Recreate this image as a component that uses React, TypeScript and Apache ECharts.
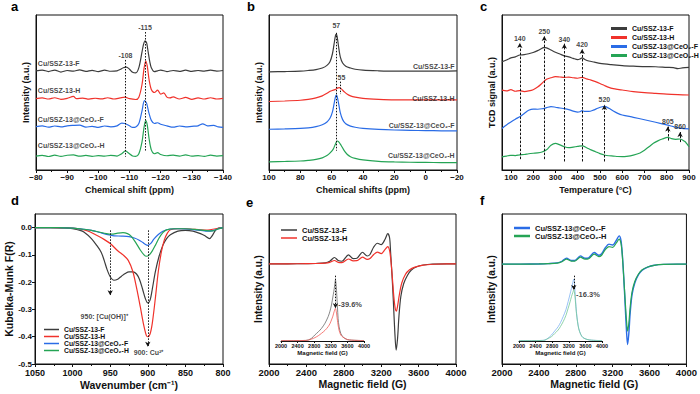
import { useEffect, useRef } from 'react';
import * as echarts from 'echarts';

type P = [number, number];
type Lbl = { t: string; x: number; y: number };
type Guide = { x: number; from: number; to: number };

// ---------- shared ----------
const sampleNames = ['Cu/SSZ-13-F', 'Cu/SSZ-13-H', 'Cu/SSZ-13@CeO₂-F', 'Cu/SSZ-13@CeO₂-H'];

// ---------- panel a : 29Si NMR (ppm, a.u.) ----------
const aF: P[] = [[-80,64],[-82,64.5],[-84,63.5],[-86,64.5],[-88,63.2],[-90,64.2],[-92,63.8],[-94,64.6],[-96,63.6],[-98,64.3],[-100,63.5],[-102,64.4],[-104,63.7],[-106,64],[-107,64.8],[-108,66],[-109,66.4],[-110,65],[-111,63],[-112,62.6],[-113,66],[-114,76],[-114.5,81],[-115,83.4],[-115.5,82],[-116,76],[-116.5,70],[-117,66],[-118,63.5],[-119,64],[-120,64.5],[-122,63.5],[-124,64.2],[-126,63.6],[-128,64.4],[-130,63.6],[-132,64.2],[-134,63.8],[-136,64.4],[-138,63.8],[-140,64.2]];
const aH: P[] = [[-80,46],[-82,46.5],[-84,45.8],[-86,46.6],[-88,45.6],[-90,46.2],[-92,47.5],[-93,46],[-95,46.4],[-97,45.7],[-99,46.3],[-101,45.9],[-103,46.6],[-105,45.8],[-107,46.5],[-108.5,47],[-110,46],[-112,45.5],[-113,47],[-114,55],[-114.7,66],[-115.2,70.3],[-115.7,67],[-116.3,58],[-117,52],[-118,50],[-119,51.5],[-120,49],[-121,49.8],[-122,47],[-123,46.5],[-124,47.2],[-126,45.8],[-128,46.8],[-130,45.6],[-132,46.5],[-134,45.8],[-136,46.6],[-138,45.8],[-140,46.2]];
const aCF: P[] = [[-80,28],[-82,28.5],[-84,27.6],[-86,28.4],[-88,27.8],[-90,28.5],[-92,28.8],[-94,29],[-96,27.6],[-98,28.2],[-100,27.5],[-102,28.4],[-104,27.8],[-106,28.5],[-107.5,30.3],[-108.5,30],[-110,28.5],[-111,27.5],[-112,27.8],[-113,30],[-114,38],[-114.8,44.7],[-115.5,43],[-116.2,37],[-117,32],[-118,30],[-119,30.5],[-120,29.5],[-122,28.5],[-124,27.6],[-126,28.4],[-128,27.8],[-130,28.2],[-132,28.5],[-133.5,29.8],[-135,28.5],[-137,28.8],[-138.5,27.8],[-140,27.5]];
const aCH: P[] = [[-80,9],[-82,9.5],[-84,8.7],[-86,9.6],[-88,8.8],[-90,9.5],[-92,9.7],[-94,8.9],[-96,9.4],[-98,8.8],[-100,9.3],[-102,8.9],[-104,9.5],[-106,9],[-107.5,10.5],[-108.7,12.3],[-109.8,10.8],[-111,9],[-112,8.8],[-113,10.5],[-114,18],[-114.7,28],[-115.2,31.8],[-115.7,29],[-116.3,20],[-117,13],[-118,10.5],[-119,11.2],[-120,10],[-122,9.2],[-124,9.6],[-126,9],[-128,9.7],[-130,9],[-132,9.3],[-134,8.8],[-136,9.6],[-138,9],[-140,9.3]];
const aSampleY = [68.8, 51.6, 32.9, 16.1];
const aSampleX = -80.6;
const aPeaks: Lbl[] = [{ t: '-115', x: -115, y: 92 }, { t: '-108', x: -108.7, y: 74 }];
const aGuides: Guide[] = [{ x: -115, from: 89, to: 12 }, { x: -108.7, from: 71, to: 8.6 }];

// ---------- panel b : 27Al NMR ----------
const bF: P[] = [[100,63.3],[90,63.5],[80,63.8],[75,64.2],[70,64.8],[66,65.8],[63,67.5],[61,70],[59.5,75],[58.5,81],[57.5,87],[57,87.7],[56.5,86],[55.5,79],[54.5,73],[53,69],[51,67],[48,65.8],[45,65],[40,64.4],[30,64],[20,63.8],[10,63.8],[0,63.8],[-10,63.8],[-20,63.9]];
const bH: P[] = [[100,44.2],[90,44.5],[80,45],[75,45.6],[70,46.5],[66,47.8],[63,49.5],[61,50.8],[59,51.5],[57.5,52],[56,53],[55,53.2],[54,52.5],[52,50.5],[50,48.8],[48,47.8],[45,47],[40,46.2],[30,45.6],[20,45.3],[10,45.3],[0,45.2],[-10,45.3],[-20,45.2]];
const bCF: P[] = [[100,26.3],[90,26.5],[80,26.8],[75,27.2],[70,28],[66,29.2],[63,31],[61,33.5],[59.5,37.5],[58.5,42.5],[57.5,47.5],[57,48.4],[56.5,47.5],[55.5,42.5],[54.5,37],[53,32.5],[51,29.8],[48,28.3],[45,27.6],[40,26.9],[30,26.2],[20,25.8],[10,25.6],[0,25.4],[-10,25.3],[-20,25.2]];
const bCH: P[] = [[100,5.3],[90,5.5],[80,5.8],[75,6.2],[70,6.8],[66,7.8],[63,9.3],[61,11],[59,13.5],[57.5,17],[56.5,18.7],[55.5,18.2],[54,16],[52,12.5],[50,10],[48,8.6],[45,7.5],[40,6.5],[30,5.6],[20,5.2],[10,5],[0,4.9],[-10,4.8],[-20,4.7]];
const bSampleY = [66.7, 46.2, 28.4, 9.2];
const bSampleX = -18.5;
const bPeaks: Lbl[] = [{ t: '57', x: 57, y: 93 }, { t: '55', x: 53.8, y: 59.6 }];
const bGuides: Guide[] = [{ x: 57, from: 88.5, to: 12.5 }, { x: 54.7, from: 57, to: 49 }];

// ---------- panel c : H2-TPR ----------
const cF: P[] = [[60,69.8],[80,71],[100,72.3],[120,73],[140,74.2],[160,74.4],[180,75],[200,75.8],[220,77],[240,78.6],[250,79.1],[260,78.8],[280,77.4],[300,76],[320,74.8],[340,73.6],[360,73],[380,72],[400,71.2],[410,71.6],[420,72.4],[430,71.5],[450,70.3],[475,69.6],[500,68.8],[550,68],[600,67.4],[650,67],[700,66.7],[750,66.6],[800,66.2],[830,66],[850,65.4],[870,65.9],[900,66.2]];
const cH: P[] = [[60,51.5],[80,51],[100,51.8],[120,50.8],[140,51.2],[160,50.6],[180,51],[200,51.8],[220,53.5],[240,56],[260,58.5],[280,59.5],[300,60.2],[320,60],[340,59.8],[360,59.9],[380,59.5],[400,59.2],[420,59.8],[440,58.8],[460,58],[480,57],[500,55.8],[520,54.5],[540,53.3],[560,52.5],[580,52],[600,51.6],[650,50.6],[700,49.9],[750,49.4],[800,48.9],[850,48.6],[900,48.4]];
const cCF: P[] = [[60,26.8],[80,29],[100,31],[120,32.8],[140,34.4],[160,36.5],[180,38.5],[200,39.3],[220,39.2],[240,39.5],[260,40.2],[280,40.9],[300,40.5],[320,40],[340,39.6],[360,39],[380,38],[400,37.3],[410,37.6],[420,38.3],[430,37.8],[450,37.8],[470,38.6],[490,39.8],[510,40.8],[520,41],[540,39.8],[560,38],[580,36.5],[600,35.5],[650,34],[700,32.4],[750,30.8],[800,29.1],[830,28],[860,27],[900,26.5]];
const cCH: P[] = [[60,8.5],[80,9],[100,9.5],[120,9.3],[140,9.8],[160,10],[180,10.5],[200,10.8],[220,11],[240,11.6],[260,13],[280,16],[300,17.2],[320,16.2],[340,15],[360,14.4],[380,14.8],[400,15.2],[420,15.6],[440,14.4],[460,13],[480,11.8],[500,10.6],[520,9.7],[540,9.2],[560,9],[580,8.7],[600,8.6],[620,8.8],[650,9.6],[680,11],[700,12.8],[720,15],[740,17.2],[760,18.8],[780,20],[805,21],[820,20.3],[840,19.8],[860,20],[880,18.5],[890,17],[900,15]];
const cTicks = [100, 200, 300, 400, 500, 600, 700, 800, 900];
const cPeaks: Lbl[] = [{ t: '140', x: 140, y: 85 }, { t: '250', x: 250, y: 89.5 }, { t: '340', x: 340, y: 84.5 }, { t: '420', x: 420, y: 81 }, { t: '520', x: 520, y: 45.5 }, { t: '805', x: 805, y: 31.5 }, { t: '860', x: 860, y: 28 }];
const cGuides: Guide[] = [{ x: 140, from: 7, to: 82 }, { x: 250, from: 7, to: 86.5 }, { x: 340, from: 5.5, to: 81.5 }, { x: 420, from: 5.5, to: 78 }, { x: 520, from: 5.5, to: 42 }, { x: 805, from: 19, to: 28 }, { x: 860, from: 18, to: 24.5 }];

// ---------- panel d : DRIFTS ----------
const dF: P[] = [[1050,0],[1030,0],[1010,-0.001],[1000,-0.004],[990,-0.01],[985,-0.016],[975,-0.04],[968,-0.065],[962,-0.09],[958,-0.12],[954,-0.155],[950,-0.18],[945,-0.193],[940,-0.189],[935,-0.178],[930,-0.168],[925,-0.162],[920,-0.162],[915,-0.17],[911,-0.19],[907,-0.225],[903,-0.262],[900,-0.276],[897,-0.266],[894,-0.225],[890,-0.162],[885,-0.105],[880,-0.065],[875,-0.04],[870,-0.026],[860,-0.013],[850,-0.01],[840,-0.013],[830,-0.022],[824,-0.03],[818,-0.04],[814,-0.028],[810,-0.01],[806,-0.002],[800,0]];
const dH: P[] = [[1050,0],[1030,0],[1010,-0.001],[1000,-0.002],[990,-0.005],[980,-0.012],[970,-0.025],[960,-0.04],[950,-0.058],[940,-0.085],[932,-0.102],[926,-0.12],[920,-0.16],[915,-0.22],[910,-0.29],[906,-0.35],[902,-0.395],[900,-0.4],[897,-0.39],[894,-0.35],[890,-0.26],[886,-0.16],[882,-0.09],[878,-0.045],[874,-0.02],[870,-0.008],[860,-0.004],[850,-0.004],[840,-0.006],[830,-0.008],[820,-0.009],[810,-0.004],[800,0]];
const dCF: P[] = [[1050,0],[1020,0],[1000,-0.002],[985,-0.006],[975,-0.01],[965,-0.017],[955,-0.025],[945,-0.03],[935,-0.031],[925,-0.033],[918,-0.038],[912,-0.045],[907,-0.054],[903,-0.062],[900,-0.065],[896,-0.058],[892,-0.042],[886,-0.025],[880,-0.013],[870,-0.005],[860,-0.004],[850,-0.005],[840,-0.007],[830,-0.01],[820,-0.013],[812,-0.01],[806,-0.004],[800,0]];
const dCH: P[] = [[1050,0],[1020,0],[1000,-0.002],[985,-0.006],[975,-0.01],[965,-0.016],[955,-0.022],[948,-0.024],[940,-0.02],[933,-0.018],[927,-0.022],[922,-0.032],[916,-0.055],[910,-0.082],[905,-0.1],[902,-0.105],[898,-0.1],[894,-0.085],[890,-0.065],[885,-0.038],[880,-0.018],[875,-0.008],[865,-0.004],[850,-0.004],[835,-0.007],[822,-0.011],[814,-0.012],[808,-0.006],[800,0]];
const dYTicks = [-0.5, -0.4, -0.3, -0.2, -0.1, 0];
const dNotes: Lbl[] = [{ t: '950: [Cu(OH)]⁺', x: 958, y: -0.325 }, { t: '900: Cu²⁺', x: 899, y: -0.458 }];
const dGuides: Guide[] = [{ x: 950, from: -0.01, to: -0.248 }, { x: 900, from: -0.01, to: -0.437 }];

// ---------- panel e / f : EPR ----------
const eF: P[] = [[2000,66.8],[2200,66.8],[2400,66.9],[2500,67],[2600,67.4],[2650,68.5],[2700,71],[2740,69],[2780,68.5],[2850,72.8],[2900,70.3],[2940,70.5],[3000,74.5],[3050,72],[3080,73],[3120,78],[3160,80.5],[3200,79.6],[3240,83],[3270,86.9],[3290,84],[3300,75],[3315,60],[3330,42],[3345,22],[3360,9.3],[3375,17],[3390,32],[3410,45],[3440,53.5],[3480,59],[3520,62.5],[3580,64.8],[3650,66],[3750,66.6],[3900,66.8],[4000,66.8]];
const eH: P[] = [[2000,66.8],[2200,66.8],[2400,66.9],[2500,67],[2600,67.3],[2650,67.8],[2700,69],[2740,67.8],[2780,67.6],[2850,70],[2900,68.8],[2940,68.9],[3000,71.2],[3050,69.8],[3080,70.3],[3120,73],[3160,74.6],[3200,73.6],[3240,76.2],[3270,78.3],[3290,75.5],[3305,68],[3320,57],[3335,45],[3350,37],[3362,35.2],[3375,38.5],[3395,46.5],[3420,54],[3460,59.8],[3500,62.6],[3560,64.6],[3650,65.9],[3750,66.5],[3900,66.8],[4000,66.8]];
const eInsF: P[] = [[2000,0.5],[2300,0.5],[2600,0.8],[2656,1.4],[2740,4],[2816,8.5],[2900,13],[2976,17.8],[3060,25],[3136,34.3],[3180,42],[3216,50.7],[3250,62],[3272,69.5],[3295,79],[3312,86],[3330,78],[3344,64.8],[3360,48],[3376,31.9],[3400,20],[3440,10.8],[3490,6],[3536,3.8],[3600,2],[3700,1.2],[3850,0.8],[4000,0.6]];
const eInsH: P[] = [[2000,0.5],[2300,0.5],[2600,0.8],[2656,1.2],[2740,2.8],[2816,4.7],[2900,7.5],[2976,10.8],[3060,15],[3136,20.2],[3180,24.5],[3216,29.6],[3250,35],[3280,41.3],[3312,46],[3330,42],[3344,36.6],[3360,29],[3376,22.5],[3400,15],[3440,8.5],[3490,5.5],[3536,3.8],[3600,2],[3700,1.2],[3850,0.8],[4000,0.6]];
const eNote: Lbl[] = [{ t: '-39.6%', x: 3380, y: 52 }];
const eGuide: Guide[] = [{ x: 3312, from: 92, to: 46 }];

const fF: P[] = [[2000,66.6],[2200,66.6],[2400,66.7],[2500,66.9],[2600,67.4],[2650,68.5],[2700,70.6],[2750,69],[2790,69],[2850,72.1],[2900,70.5],[2940,70.8],[3000,74.3],[3050,72.5],[3080,73.5],[3120,77.5],[3160,79.9],[3200,79.3],[3240,82.5],[3270,85.4],[3290,82.5],[3305,73],[3320,58],[3335,40],[3350,22],[3362,13],[3375,20],[3390,34],[3410,46],[3440,54],[3480,59.5],[3520,62.5],[3580,64.6],[3650,65.8],[3750,66.4],[3900,66.6],[4000,66.6]];
const fH: P[] = [[2000,66.6],[2200,66.6],[2400,66.7],[2500,66.9],[2600,67.3],[2650,68.2],[2700,69.9],[2750,68.6],[2790,68.6],[2850,71.2],[2900,69.9],[2940,70.2],[3000,73.2],[3050,71.6],[3080,72.5],[3120,76.3],[3160,78.3],[3200,77.7],[3240,80.7],[3270,83.2],[3290,80.5],[3305,72],[3320,58],[3335,43],[3350,29],[3362,21.9],[3375,27],[3390,38],[3410,48],[3440,55],[3480,60],[3520,62.8],[3580,64.7],[3650,65.8],[3750,66.4],[3900,66.6],[4000,66.6]];
const fInsF: P[] = [[2000,0.5],[2300,0.5],[2560,0.8],[2624,1.4],[2700,4],[2784,8.5],[2860,14],[2944,20.2],[3000,26],[3064,34.3],[3130,44],[3184,55.4],[3230,66],[3264,74.2],[3295,82],[3320,87.3],[3335,82],[3350,70],[3365,56],[3384,41.3],[3410,28],[3440,17.8],[3490,9],[3544,4.7],[3640,2.2],[3744,1.2],[3850,0.8],[4000,0.6]];
const fInsH: P[] = [[2000,0.5],[2300,0.5],[2560,0.8],[2624,1.2],[2700,3.5],[2784,6.2],[2860,10.5],[2944,15.5],[3000,20.5],[3064,27.2],[3130,36],[3184,46],[3230,55],[3264,62.4],[3295,68],[3320,71.8],[3335,69],[3350,62],[3365,52],[3384,39],[3410,27],[3440,16.9],[3490,9],[3544,4.7],[3640,2.2],[3744,1.2],[3850,0.8],[4000,0.6]];
const fNote: Lbl[] = [{ t: '-16.3%', x: 3375, y: 66 }];
const fGuide: Guide[] = [{ x: 3320, from: 92, to: 72 }];

// ---------- styling ----------
const FONT = '"Liberation Sans", Arial, sans-serif';
const INK = '#111';
const COL = ['#3c3c3c', '#f0322b', '#2a6ce6', '#25a455'];
const COL_INSET = ['#6a6a6a', '#f25a55', '#7fb2f2', '#74c896'];

const plain = (v: number) => String(v);
const minus = (v: number) => String(v).replace('-', '−');

function curve(data: P[], color: string, idx: number, name?: string, width = 1.2) {
  return {
    type: 'line', name, data, xAxisIndex: idx, yAxisIndex: idx, symbol: 'none', showSymbol: false,
    smooth: 0.3, lineStyle: { color, width }, itemStyle: { color }, silent: true, z: 3,
  };
}

function notes(items: Lbl[], idx: number, align: string, fontSize: number, guides: Guide[] = [], arrow = false, dash: number[] = [1.5, 1.5]) {
  return {
    type: 'scatter', xAxisIndex: idx, yAxisIndex: idx, symbolSize: 0, silent: true, z: 6,
    itemStyle: { color: 'transparent' },
    data: items.map((d) => ({ name: d.t, value: [d.x, d.y] })),
    label: {
      show: true, position: [0, 0], align, verticalAlign: 'middle', formatter: '{b}',
      fontFamily: FONT, fontWeight: 'bold', fontSize, color: INK, textBorderWidth: 0, textBorderColor: 'transparent',
    },
    markLine: {
      silent: true, symbol: arrow ? ['none', 'arrow'] : ['none', 'none'], symbolSize: [4, 5], precision: 4,
      label: { show: false }, emphasis: { disabled: true },
      lineStyle: { color: INK, width: 1, type: dash },
      data: guides.map((g) => [{ coord: [g.x, g.from] }, { coord: [g.x, g.to] }]),
    },
  };
}

function xAx(idx: number, opts: any, big: boolean, name?: string) {
  const fs = big ? 9.5 : 8;
  return {
    gridIndex: idx, type: 'value', name, nameLocation: 'middle', nameGap: big ? 14 : 15,
    nameTextStyle: { fontFamily: FONT, fontWeight: 'bold', fontSize: big ? 10.5 : 9, color: INK },
    axisLine: { show: true, onZero: false, lineStyle: { color: INK, width: 1 } },
    axisTick: { show: true, length: 3, lineStyle: { color: INK } },
    minorTick: { show: true, splitNumber: 2, length: 2, lineStyle: { color: INK } },
    splitLine: { show: false },
    axisLabel: { fontFamily: FONT, fontWeight: 'bold', fontSize: fs, color: INK, margin: 3, formatter: plain },
    ...opts,
  };
}

function yPlain(idx: number, name?: string, fs = 9) {
  return {
    gridIndex: idx, type: 'value', min: 0, max: 100, name, nameLocation: 'middle', nameGap: 6,
    nameTextStyle: { fontFamily: FONT, fontWeight: 'bold', fontSize: fs, color: INK },
    axisLine: { show: true, onZero: false, lineStyle: { color: INK } },
    axisTick: { show: false }, axisLabel: { show: false }, splitLine: { show: false },
  };
}

function buildOption() {
  const grids = [
    { left: 36, top: 15, width: 187, height: 155 },
    { left: 269, top: 15, width: 188, height: 155 },
    { left: 502, top: 15, width: 187, height: 155 },
    { left: 35, top: 214, width: 188, height: 150 },
    { left: 269, top: 214, width: 187, height: 150 },
    { left: 502, top: 214, width: 187, height: 150 },
    { left: 281, top: 270, width: 83, height: 71 },
    { left: 519, top: 270, width: 83, height: 71 },
  ].map((g, i) => ({ ...g, show: i < 6, borderColor: INK, borderWidth: 1, backgroundColor: 'transparent', containLabel: false }));

  const lab = (fs: number, extra: any = {}) => ({ fontFamily: FONT, fontWeight: 'bold', fontSize: fs, color: INK, margin: 3, formatter: plain, ...extra });

  const insetX = (idx: number) => xAx(idx, {
    min: 2000, max: 4000, interval: 400, minorTick: { show: false },
    axisTick: { show: true, length: 2, lineStyle: { color: INK } },
    axisLabel: lab(5.5, { margin: 2 }),
    nameGap: 9, nameTextStyle: { fontFamily: FONT, fontWeight: 'bold', fontSize: 6, color: INK },
  }, false, 'Magnetic field (G)');

  const xAxis = [
    xAx(0, { min: -140, max: -80, interval: 10, inverse: true, axisLabel: lab(8, { formatter: minus }) }, false, 'Chemical shift (ppm)'),
    xAx(1, { min: -20, max: 100, interval: 20, inverse: true, axisLabel: lab(8, { formatter: minus }) }, false, 'Chemical shifts (ppm)'),
    xAx(2, {
      min: 60, max: 900, minorTick: { show: false },
      axisTick: { show: true, length: 3, lineStyle: { color: INK }, customValues: cTicks },
      axisLabel: lab(8, { customValues: cTicks }),
    }, false, 'Temperature (°C)'),
    xAx(3, { min: 800, max: 1050, interval: 50, inverse: true, axisLabel: lab(9, { margin: 4.5 }), nameGap: 15 }, true, 'Wavenumber (cm⁻¹)'),
    xAx(4, { min: 2000, max: 4000, interval: 400 }, true, 'Magnetic field (G)'),
    xAx(5, { min: 2000, max: 4000, interval: 400 }, true, 'Magnetic field (G)'),
    insetX(6),
    insetX(7),
  ];

  const yAxis = [
    yPlain(0, 'Intensity (a.u.)'),
    yPlain(1, 'Intensity (a.u.)'),
    yPlain(2, 'TCD signal (a.u.)'),
    {
      gridIndex: 3, type: 'value', min: -0.5, max: 0.05, name: 'Kubelka-Munk F(R)', nameLocation: 'middle', nameGap: 21,
      nameTextStyle: { fontFamily: FONT, fontWeight: 'bold', fontSize: 10.5, color: INK },
      axisLine: { show: true, onZero: false, lineStyle: { color: INK } },
      axisTick: { show: true, length: 3, lineStyle: { color: INK }, customValues: dYTicks },
      axisLabel: lab(8, { customValues: dYTicks, formatter: (v: number) => v.toFixed(1), verticalAlign: 'middle' }),
      splitLine: { show: false },
    },
    yPlain(4, 'Intensity (a.u.)', 10),
    yPlain(5, 'Intensity (a.u.)', 10),
    { ...yPlain(6), show: false },
    { ...yPlain(7), show: false },
  ];

  const aLbl: Lbl[] = sampleNames.map((t, i) => ({ t, x: aSampleX, y: aSampleY[i] }));
  const bLbl: Lbl[] = sampleNames.map((t, i) => ({ t, x: bSampleX, y: bSampleY[i] }));

  const series: any[] = [
    curve(aF, COL[0], 0), curve(aH, COL[1], 0), curve(aCF, COL[2], 0), curve(aCH, COL[3], 0),
    notes(aLbl, 0, 'left', 7), notes(aPeaks, 0, 'center', 7, aGuides, false),
    curve(bF, COL[0], 1), curve(bH, COL[1], 1), curve(bCF, COL[2], 1), curve(bCH, COL[3], 1),
    notes(bLbl, 1, 'right', 7), notes(bPeaks, 1, 'center', 7, bGuides, false),
    curve(cF, COL[0], 2, sampleNames[0]), curve(cH, COL[1], 2, sampleNames[1]), curve(cCF, COL[2], 2, sampleNames[2]), curve(cCH, COL[3], 2, sampleNames[3]),
    notes(cPeaks, 2, 'center', 7, cGuides, true, [2.5, 1.5]),
    curve(dF, COL[0], 3, sampleNames[0]), curve(dH, COL[1], 3, sampleNames[1]), curve(dCF, COL[2], 3, sampleNames[2]), curve(dCH, COL[3], 3, sampleNames[3]),
    notes(dNotes, 3, 'center', 7, dGuides, true),
    curve(eF, COL[0], 4, sampleNames[0]), curve(eH, COL[1], 4, sampleNames[1]),
    curve(fF, COL[2], 5, sampleNames[2], 1.4), curve(fH, COL[3], 5, sampleNames[3], 1.2),
    curve(eInsF, COL_INSET[0], 6, undefined, 0.8), curve(eInsH, COL_INSET[1], 6, undefined, 0.8),
    notes(eNote, 6, 'left', 7.5, eGuide, true),
    curve(fInsF, COL_INSET[2], 7, undefined, 0.8), curve(fInsH, COL_INSET[3], 7, undefined, 0.8),
    notes(fNote, 7, 'left', 7.5, fGuide, true),
  ];

  const legendText = (fs: number) => ({ fontFamily: FONT, fontWeight: 'bold', fontSize: fs, color: INK });
  const legend = [
    { data: sampleNames, left: 606, top: 20, orient: 'vertical', icon: 'rect', itemWidth: 16, itemHeight: 3, itemGap: 2, textStyle: legendText(7), selectedMode: false },
    { data: sampleNames, left: 39, top: 321, orient: 'vertical', icon: 'rect', itemWidth: 15, itemHeight: 1.5, itemGap: 0, textStyle: legendText(6.8), selectedMode: false },
    { data: sampleNames.slice(0, 2), left: 276, top: 221, orient: 'vertical', icon: 'rect', itemWidth: 16, itemHeight: 1.5, itemGap: 0, textStyle: legendText(7.5), selectedMode: false },
    { data: sampleNames.slice(2), left: 509, top: 219, orient: 'vertical', icon: 'rect', itemWidth: 16, itemHeight: 2.5, itemGap: 0, textStyle: legendText(7.5), selectedMode: false },
  ];

  const letter = (t: string, x: number, y: number) => ({
    type: 'text', left: x, top: y, silent: true,
    style: { text: t, fill: '#000', font: `bold 13px ${FONT}` },
  });

  return {
    animation: false,
    backgroundColor: '#ffffff',
    grid: grids,
    xAxis,
    yAxis,
    legend,
    series,
    graphic: [letter('a', 11, 0), letter('b', 247, 0), letter('c', 480, 0), letter('d', 11, 194), letter('e', 246, 196), letter('f', 480, 194)],
  };
}

export default function App() {
  const ref = useRef<HTMLDivElement>(null);
  useEffect(() => {
    if (!ref.current) return;
    const chart = echarts.init(ref.current, undefined, { renderer: 'svg' });
    chart.setOption(buildOption() as any);
    return () => chart.dispose();
  }, []);
  return <div ref={ref} style={{ position: 'absolute', left: 0, top: 0, width: 700, height: 394, background: '#fff' }} />;
}
